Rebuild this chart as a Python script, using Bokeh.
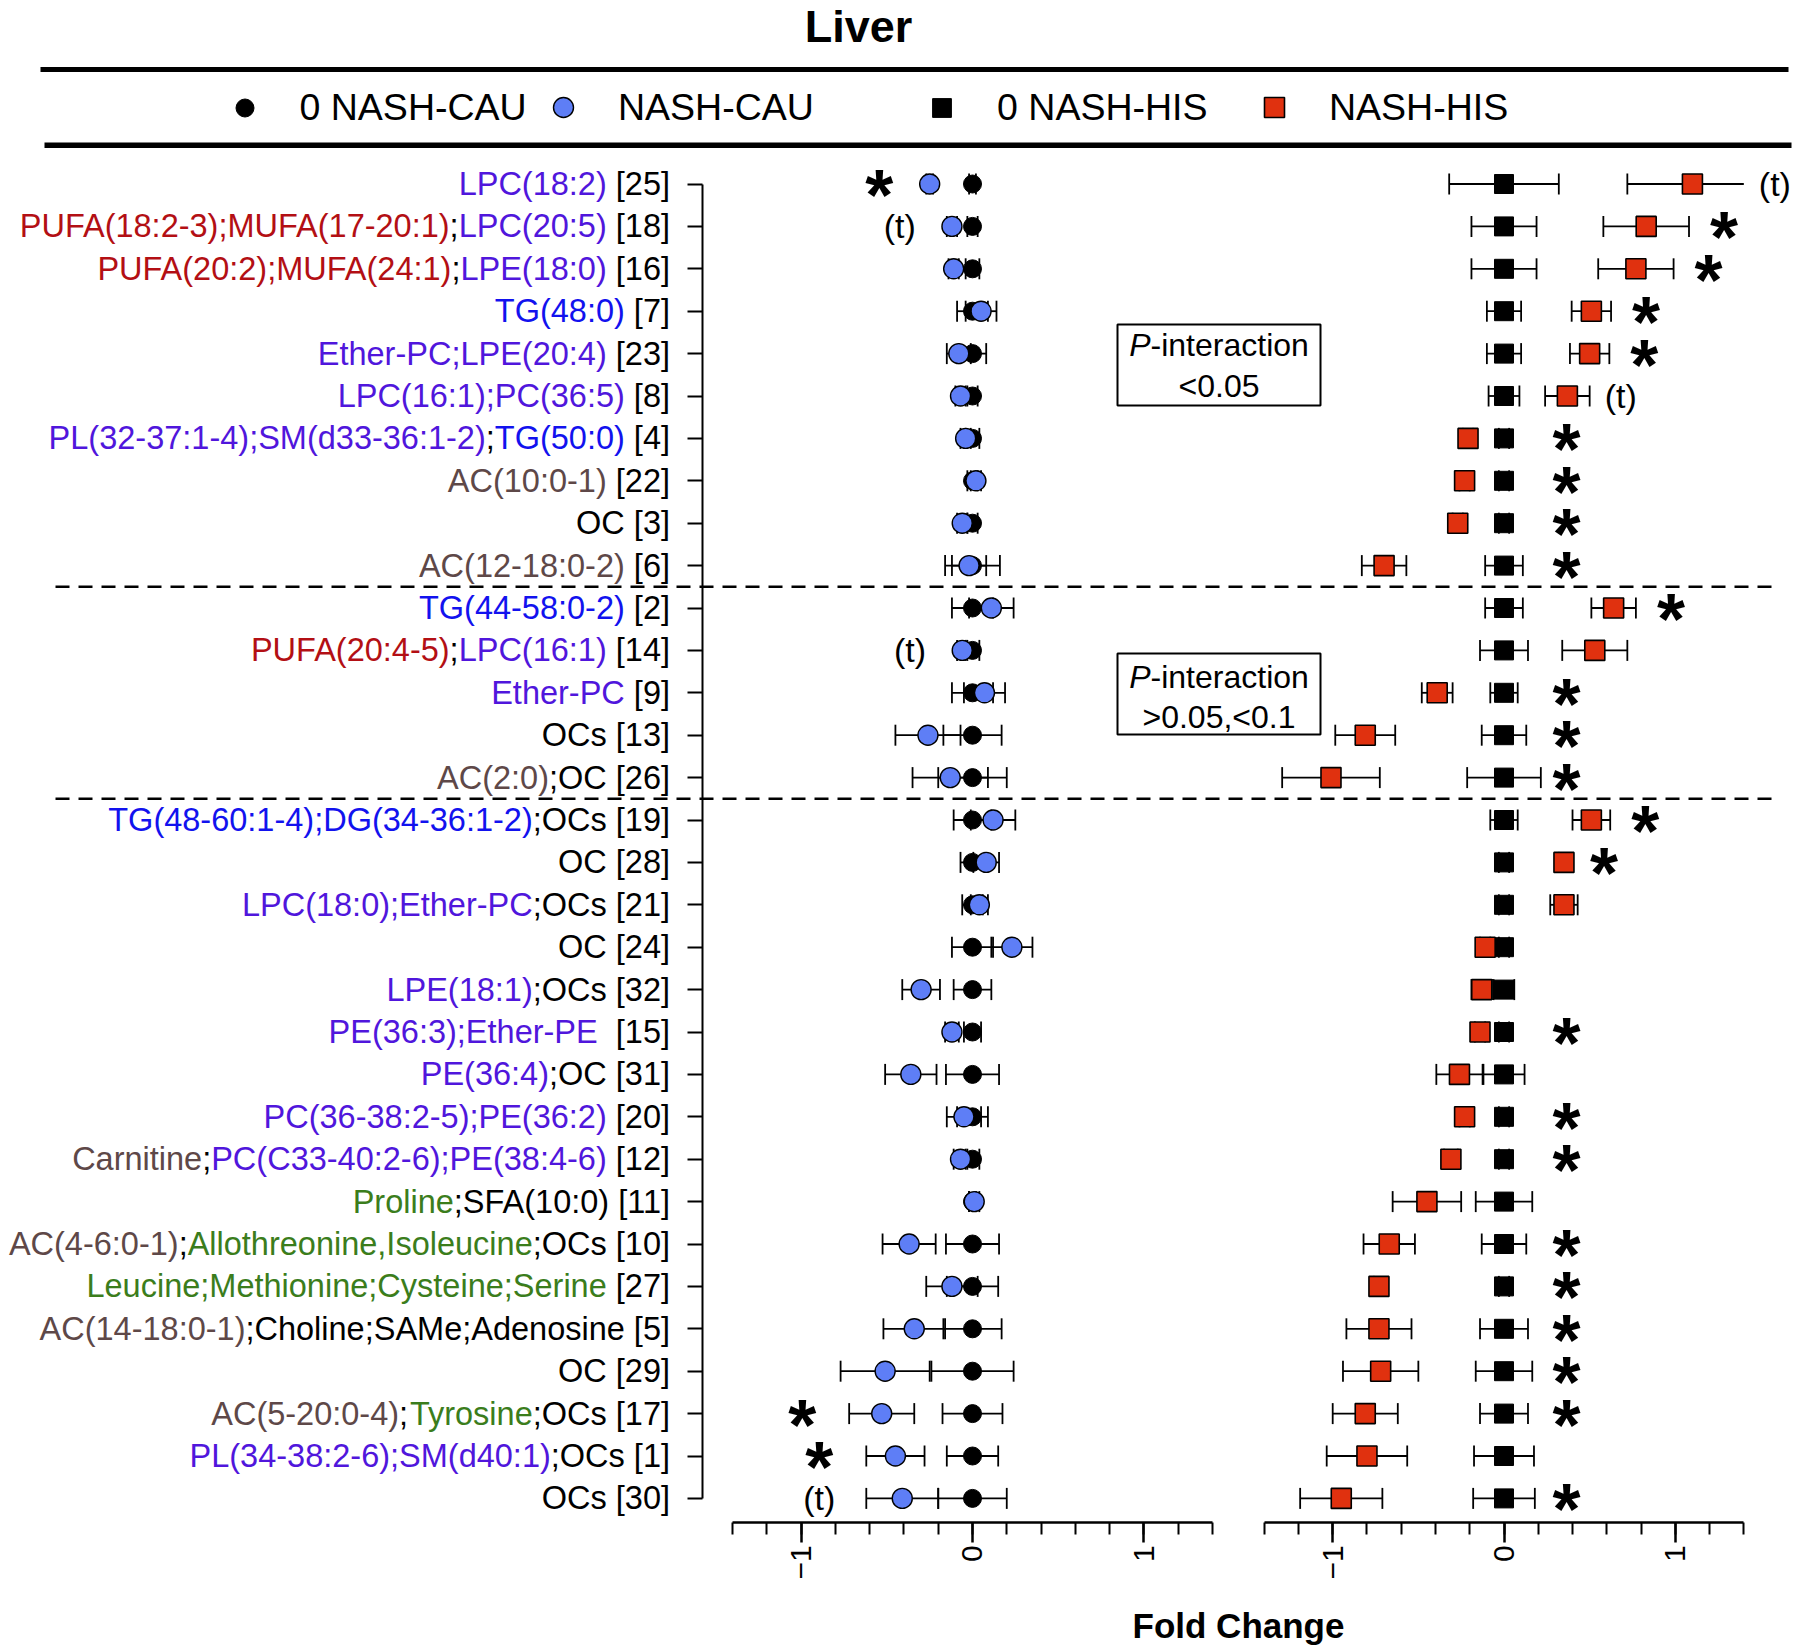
import math
from bokeh.plotting import figure
from bokeh.models import Range1d, LinearAxis, FixedTicker, ColumnDataSource, Legend, LegendItem, BoxAnnotation
from bokeh.core.properties import value
from bokeh.embed import file_html
from bokeh.resources import INLINE

FONT = "Liberation Sans"

# ---------------------------------------------------------------- data
title_text = "Liver"
x_title = "Fold Change"
series_names = ["0 NASH-CAU", "NASH-CAU", "0 NASH-HIS", "NASH-HIS"]

label_segments = [
    [("LPC(18:2)", "P"), (" [25]", "K")],
    [("PUFA(18:2-3);MUFA(17-20:1)", "R"), (";", "K"), ("LPC(20:5)", "P"), (" [18]", "K")],
    [("PUFA(20:2);MUFA(24:1)", "R"), (";", "K"), ("LPE(18:0)", "P"), (" [16]", "K")],
    [("TG(48:0)", "B"), (" [7]", "K")],
    [("Ether-PC;LPE(20:4)", "P"), (" [23]", "K")],
    [("LPC(16:1);PC(36:5)", "P"), (" [8]", "K")],
    [("PL(32-37:1-4);SM(d33-36:1-2)", "P"), (";", "K"), ("TG(50:0)", "B"), (" [4]", "K")],
    [("AC(10:0-1)", "N"), (" [22]", "K")],
    [("OC [3]", "K")],
    [("AC(12-18:0-2)", "N"), (" [6]", "K")],
    [("TG(44-58:0-2)", "B"), (" [2]", "K")],
    [("PUFA(20:4-5)", "R"), (";", "K"), ("LPC(16:1)", "P"), (" [14]", "K")],
    [("Ether-PC", "P"), (" [9]", "K")],
    [("OCs [13]", "K")],
    [("AC(2:0)", "N"), (";OC [26]", "K")],
    [("TG(48-60:1-4);DG(34-36:1-2)", "B"), (";OCs [19]", "K")],
    [("OC [28]", "K")],
    [("LPC(18:0);Ether-PC", "P"), (";OCs [21]", "K")],
    [("OC [24]", "K")],
    [("LPE(18:1)", "P"), (";OCs [32]", "K")],
    [("PE(36:3);Ether-PE", "P"), ("  [15]", "K")],
    [("PE(36:4)", "P"), (";OC [31]", "K")],
    [("PC(36-38:2-5);PE(36:2)", "P"), (" [20]", "K")],
    [("Carnitine", "N"), (";", "K"), ("PC(C33-40:2-6);PE(38:4-6)", "P"), (" [12]", "K")],
    [("Proline", "G"), (";SFA(10:0) [11]", "K")],
    [("AC(4-6:0-1)", "N"), (";", "K"), ("Allothreonine,Isoleucine", "G"), (";OCs [10]", "K")],
    [("Leucine;Methionine;Cysteine;Serine", "G"), (" [27]", "K")],
    [("AC(14-18:0-1)", "N"), (";Choline;SAMe;Adenosine [5]", "K")],
    [("OC [29]", "K")],
    [("AC(5-20:0-4)", "N"), (";", "K"), ("Tyrosine", "G"), (";OCs [17]", "K")],
    [("PL(34-38:2-6);SM(d40:1)", "P"), (";OCs [1]", "K")],
    [("OCs [30]", "K")],
]

group_sizes = [10, 5, 17]   # P-interaction <0.05 / >0.05,<0.1 / rest
group_notes = [["P", "-interaction", "<0.05"], ["P", "-interaction", ">0.05,<0.1"]]

cau0_mean = [0.0, 0.0, 0.0, 0.0, 0.0, 0.0, 0.0, 0.0, 0.0, 0.0, 0.0, 0.0, 0.0, 0.0, 0.0, 0.0,
             0.0, 0.0, 0.0, 0.0, 0.0, 0.0, 0.0, 0.0, 0.0, 0.0, 0.0, 0.0, 0.0, 0.0, 0.0, 0.0]
cau0_sem = [0.02, 0.03, 0.04, 0.09, 0.08, 0.03, 0.04, 0.03, 0.03, 0.16, 0.12, 0.04, 0.12, 0.17, 0.20, 0.11,
            0.07, 0.06, 0.12, 0.11, 0.05, 0.155, 0.09, 0.04, 0.02, 0.155, 0.15, 0.17, 0.24, 0.175, 0.15, 0.20]
cau_mean = [-0.25, -0.12, -0.11, 0.05, -0.08, -0.07, -0.04, 0.02, -0.06, -0.02, 0.11, -0.06, 0.07, -0.26, -0.13, 0.12,
            0.08, 0.04, 0.23, -0.30, -0.12, -0.36, -0.05, -0.07, 0.01, -0.37, -0.12, -0.34, -0.51, -0.53, -0.45, -0.41]
cau_sem = [0.02, 0.03, 0.03, 0.09, 0.07, 0.03, 0.03, 0.03, 0.03, 0.10, 0.13, 0.03, 0.12, 0.19, 0.22, 0.13,
           0.075, 0.05, 0.12, 0.11, 0.04, 0.15, 0.10, 0.04, 0.03, 0.155, 0.15, 0.18, 0.26, 0.19, 0.17, 0.21]

his0_mean = [0.0, 0.0, 0.0, 0.0, 0.0, 0.0, 0.0, 0.0, 0.0, 0.0, 0.0, 0.0, 0.0, 0.0, 0.0, 0.0,
             0.0, 0.0, 0.0, 0.0, 0.0, 0.0, 0.0, 0.0, 0.0, 0.0, 0.0, 0.0, 0.0, 0.0, 0.0, 0.0]
his0_sem = [0.32, 0.19, 0.19, 0.10, 0.10, 0.09, 0.03, 0.03, 0.03, 0.11, 0.11, 0.14, 0.08, 0.13, 0.215, 0.08,
            0.03, 0.03, 0.03, 0.06, 0.03, 0.12, 0.03, 0.03, 0.165, 0.13, 0.03, 0.14, 0.165, 0.14, 0.175, 0.18]
his_mean = [1.10, 0.83, 0.77, 0.51, 0.50, 0.37, -0.21, -0.23, -0.27, -0.70, 0.64, 0.53, -0.39, -0.81, -1.01, 0.51,
            0.35, 0.35, -0.11, -0.13, -0.14, -0.26, -0.23, -0.31, -0.45, -0.67, -0.73, -0.73, -0.72, -0.81, -0.80, -0.95]
his_sem = [0.38, 0.25, 0.22, 0.115, 0.115, 0.13, 0.03, 0.03, 0.03, 0.13, 0.13, 0.19, 0.09, 0.175, 0.285, 0.11,
           0.03, 0.08, 0.03, 0.06, 0.03, 0.135, 0.03, 0.04, 0.20, 0.15, 0.03, 0.19, 0.22, 0.19, 0.235, 0.24]

cau_mark = ["*", "(t)", "", "", "", "", "", "", "", "", "", "(t)", "", "", "", "",
            "", "", "", "", "", "", "", "", "", "", "", "", "", "*", "*", "(t)"]
his_mark = ["(t)", "*", "*", "*", "*", "(t)", "*", "*", "*", "*", "*", "", "*", "*", "*", "*",
            "*", "", "", "", "*", "", "*", "*", "", "*", "*", "*", "*", "*", "", "*"]

x_major = [-1, 0, 1]
x_minor = [-1.4, -1.2, -1.0, -0.8, -0.6, -0.4, -0.2, 0.0, 0.2, 0.4, 0.6, 0.8, 1.0, 1.2, 1.4]
x_limit = 1.4

# ---------------------------------------------------------------- styles
SEG_COLORS = {"R": "#B30F14", "P": "#5016DC", "B": "#1212EE", "N": "#5E4848", "G": "#3B7D1C", "K": "#000000"}
BLUE = "#5E7EF6"
RED = "#E0310F"

# Arial / Liberation Sans advance widths (1/1000 em)
AW = {' ': 278, '(': 333, ')': 333, '[': 278, ']': 278, ':': 278, ';': 278, ',': 278, '-': 333, '.': 278,
      '<': 584, '>': 584}
for ch in "0123456789":
    AW[ch] = 556
AW.update({'A': 667, 'B': 667, 'C': 722, 'D': 722, 'E': 667, 'F': 611, 'G': 778, 'H': 722, 'I': 278,
           'L': 556, 'M': 833, 'N': 722, 'O': 778, 'P': 667, 'R': 722, 'S': 667, 'T': 611, 'U': 722,
           'a': 556, 'c': 500, 'd': 556, 'e': 556, 'h': 556, 'i': 222, 'l': 222, 'm': 833, 'n': 556,
           'o': 556, 'r': 333, 's': 500, 't': 278, 'u': 556, 'y': 500})
KERN = {"FA": -55, "11": -74}


def text_width(s, size):
    w = sum(AW.get(ch, 556) for ch in s)
    for a, b in zip(s, s[1:]):
        w += KERN.get(a + b, 0)
    return w * size / 1000.0


# ---------------------------------------------------------------- layout (reference pixels)
W, H = 1798, 1650
PXU = 171.3
LZERO, RZERO = 972.0, 1503.5
ROW1_PX, ROW_PX = 183.5, 42.4


def lx(px):
    return (px - LZERO) / PXU


def rx(px):
    return (px - RZERO) / PXU


def ry(py):
    return 1 + (py - ROW1_PX) / ROW_PX


n = len(label_segments)
rows = list(range(1, n + 1))

p = figure(width=W, height=H, output_backend="svg", toolbar_location=None,
           x_range=Range1d(lx(0), lx(W)), y_range=Range1d(ry(H), ry(0)),
           x_axis_location=None, y_axis_location=None, min_border=0,
           outline_line_color=None, background_fill_color="white", border_fill_color="white")
p.extra_x_ranges = {"r": Range1d(rx(0), rx(W))}
for g in p.grid:
    g.visible = False

# ---- axes
YAXIS_X = lx(701.5)
yax = LinearAxis(fixed_location=YAXIS_X, bounds=(1, n), ticker=FixedTicker(ticks=rows),
                 axis_line_width=2, major_tick_in=0, major_tick_out=15, major_tick_line_width=2,
                 minor_tick_in=0, minor_tick_out=0, major_label_text_color=None)
p.add_layout(yax, "left")

XAXIS_Y = ry(1521.7)
for rname in ["default", "r"]:
    ax = LinearAxis(x_range_name=rname, fixed_location=XAXIS_Y, bounds=(-x_limit, x_limit),
                    ticker=FixedTicker(ticks=x_major, minor_ticks=x_minor))
    ax.axis_line_width = 2.5
    ax.major_tick_in = 0
    ax.major_tick_out = 20
    ax.major_tick_line_width = 2.5
    ax.minor_tick_in = 0
    ax.minor_tick_out = 12
    ax.minor_tick_line_width = 2
    ax.major_label_orientation = math.pi / 2
    ax.major_label_standoff = 3
    ax.major_label_text_font = FONT
    ax.major_label_text_font_size = "30px"
    ax.major_label_text_color = "black"
    p.add_layout(ax, "below")


# ---- series
def draw_series(mean, sem, rname, marker, size, fill, lw):
    lo = [max(m - s, -x_limit) for m, s in zip(mean, sem)]
    hi = [min(m + s, x_limit) for m, s in zip(mean, sem)]
    p.segment(x0=lo, y0=rows, x1=hi, y1=rows, line_color="black", line_width=1.8, x_range_name=rname)
    cx = [v for v in lo if v > -x_limit] + [v for v in hi if v < x_limit]
    cy = [r for v, r in zip(lo, rows) if v > -x_limit] + [r for v, r in zip(hi, rows) if v < x_limit]
    p.scatter(x=cx, y=cy, marker="dash", angle=math.pi / 2, size=21, line_color="black",
              line_width=1.8, x_range_name=rname)
    return p.scatter(x=mean, y=rows, marker=marker, size=size, fill_color=fill, line_color="black",
                     line_width=lw, x_range_name=rname)


r_cau0 = draw_series(cau0_mean, cau0_sem, "default", "circle", 18, "black", 1)
r_cau = draw_series(cau_mean, cau_sem, "default", "circle", 20, BLUE, 1.4)
r_his0 = draw_series(his0_mean, his0_sem, "r", "square", 19, "black", 1)
r_his = draw_series(his_mean, his_sem, "r", "square", 20, RED, 1.6)


# ---- significance marks
def add_marks(xs, marks, rname, star_off, t_off, t_align):
    sx, sy, tx, ty = [], [], [], []
    for x, m, r in zip(xs, marks, rows):
        if m == "*":
            sx.append(x); sy.append(r)
        elif m == "(t)":
            tx.append(x); ty.append(r)
    p.text(x=sx, y=sy, text=["*"] * len(sx), x_offset=star_off, y_offset=11, text_align="center",
           text_baseline="alphabetic", text_font=value(FONT), text_font_style="bold",
           text_font_size="72px", text_color="black", x_range_name=rname)
    p.text(x=tx, y=ty, text=["(t)"] * len(tx), x_offset=t_off, text_align=t_align,
           text_baseline="middle", text_font=value(FONT), text_font_size="34px",
           text_color="black", x_range_name=rname)


cau_low = [m - s for m, s in zip(cau_mean, cau_sem)]
add_marks(cau_low, cau_mark, "default", -47, -47, "center")
his_high = [max(min(m + s, x_limit), 0.16) for m, s in zip(his_mean, his_sem)]
add_marks(his_high, his_mark, "r", 35, 15, "left")

# ---- row labels (multi-coloured segments, right aligned before the y axis)
LABEL_SIZE = 32.5
GAP = 32
sx, sy, st, sc, so = [], [], [], [], []
for r, segs in zip(rows, label_segments):
    acc = 0.0
    for txt, key in reversed(segs):
        sx.append(YAXIS_X); sy.append(r); st.append(txt.lstrip(" "))
        sc.append(SEG_COLORS[key]); so.append(-(GAP + acc))
        acc += text_width(txt, LABEL_SIZE)
lab_src = ColumnDataSource(dict(x=sx, y=sy, t=st, c=sc, o=so))
p.text(x="x", y="y", text="t", text_color="c", x_offset="o", source=lab_src, text_align="right",
       text_baseline="middle", text_font=value(FONT), text_font_size=f"{LABEL_SIZE}px")

# ---- group separators
seps = []
acc = 0
for gsz in group_sizes[:-1]:
    acc += gsz
    seps.append(acc + 0.5)
p.segment(x0=[lx(55)] * len(seps), x1=[lx(1777)] * len(seps), y0=seps, y1=seps,
          line_color="black", line_width=2.5, line_dash="14 9")

# ---- P-interaction boxes
box_px = [(324, 405, 344.7, 385.7), (653, 734, 676, 716.7)]
BOX_L, BOX_R = 1117, 1320
BOX_SIZE = 32
for (top, bot, y1, y2), note in zip(box_px, group_notes):
    p.add_layout(BoxAnnotation(left=rx(BOX_L), right=rx(BOX_R), top=ry(top), bottom=ry(bot),
                               x_range_name="r", fill_alpha=0, fill_color=None,
                               line_color="black", line_alpha=1.0, line_width=2))
    wp = text_width(note[0], BOX_SIZE)
    wr = text_width(note[1], BOX_SIZE)
    start = (BOX_L + BOX_R) / 2 - (wp + wr) / 2
    p.text(x=[rx(start)], y=[ry(y1)], text=[note[0]], text_align="left", text_baseline="middle",
           text_font=value(FONT), text_font_style="italic", text_font_size=f"{BOX_SIZE}px",
           text_color="black", x_range_name="r")
    p.text(x=[rx(start + wp)], y=[ry(y1)], text=[note[1]], text_align="left", text_baseline="middle",
           text_font=value(FONT), text_font_size=f"{BOX_SIZE}px", text_color="black", x_range_name="r")
    p.text(x=[rx((BOX_L + BOX_R) / 2)], y=[ry(y2)], text=[note[2]], text_align="center",
           text_baseline="middle", text_font=value(FONT), text_font_size=f"{BOX_SIZE}px",
           text_color="black", x_range_name="r")

# ---- title, rules, x title
p.text(x=[lx(858)], y=[ry(26)], text=[title_text], text_align="center", text_baseline="middle",
       text_font=value(FONT), text_font_style="bold", text_font_size="45px", text_color="black")
p.segment(x0=[lx(40)], x1=[lx(1788)], y0=[ry(69)], y1=[ry(69)], line_color="black", line_width=5)
p.segment(x0=[lx(44)], x1=[lx(1791)], y0=[ry(144.7)], y1=[ry(144.7)], line_color="black", line_width=5.5)
p.text(x=[lx(1238)], y=[ry(1625)], text=[x_title], text_align="center", text_baseline="middle",
       text_font=value(FONT), text_font_style="bold", text_font_size="35px", text_color="black")

# ---- legend (four separately placed entries)
leg_pos = [(244, 45), (563, 50), (941.6, 47), (1274, 50)]
LEG_Y = 107.3
for name, rend, (cx, g) in zip(series_names, [r_cau0, r_cau, r_his0, r_his], leg_pos):
    leg = Legend(items=[LegendItem(label=name, renderers=[rend])],
                 location=(cx - g / 2, H - LEG_Y - g / 2),
                 orientation="horizontal", glyph_width=g, glyph_height=g, label_height=g,
                 label_standoff=int(round(55.3 - g / 2)), padding=0, spacing=0, margin=0,
                 border_line_color=None, background_fill_alpha=0,
                 label_text_font=FONT, label_text_font_size="37.5px", label_text_color="black",
                 label_text_baseline="middle")
    p.add_layout(leg)

open("out.html", "w").write(file_html(p, INLINE))
